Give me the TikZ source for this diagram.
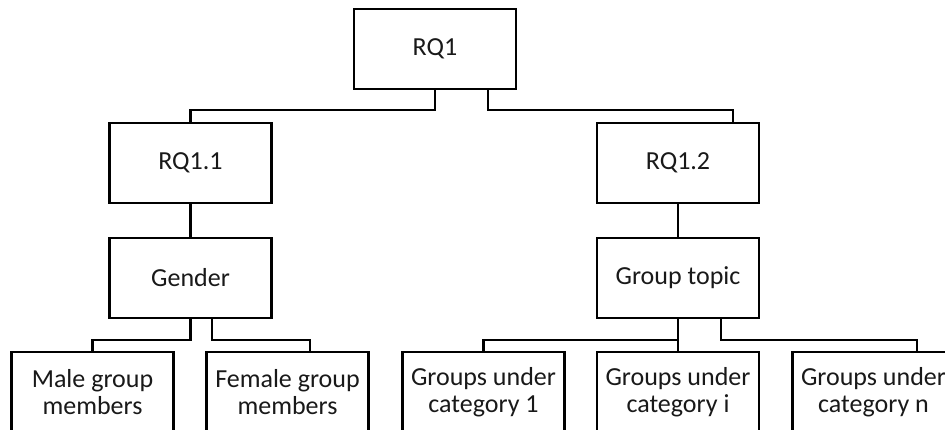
\documentclass[tikz,border=0pt]{standalone}
\usepackage{fontspec}
\setmainfont{Carlito}
\begin{document}
\begin{tikzpicture}[x=1pt,y=-1pt,
  box/.style={draw=black, line width=2.4pt, fill=white, minimum width=162pt,
    minimum height=80pt, inner sep=0pt, align=center, text=black!90,
    font=\fontsize{26}{27}\selectfont},
  link/.style={draw=black, line width=2.2pt}]
\useasboundingbox (0,0) rectangle (945,429);
\clip (0,0) rectangle (945,429);

% levels
\node[box] (rq1)    at (435,49)    {RQ1};
\node[box] (rq11)   at (190.5,163) {RQ1.1};
\node[box] (rq12)   at (678,163)   {RQ1.2};
\node[box] (gender) at (190.5,278) {Gender};
\node[box] (topic)  at (678,278)   {Group topic};
\node[box] (male)   at (92.5,392)  {Male group\\members};
\node[box] (female) at (287.5,392) {Female group\\members};
\node[box] (g1)     at (483.5,392) {Groups under\\category 1};
\node[box] (gi)     at (678,392)   {Groups under\\category i};
\node[box] (gn)     at (873.5,392) {Groups under\\category n};

% bus heights
\coordinate (top bus) at (0,110);
\coordinate (low bus) at (0,340);

% RQ1 to its two sub-questions
\draw[link] (rq1.south) -- (rq1.south |- top bus) -- (rq11.north |- top bus) -- (rq11.north);
\draw[link] ([xshift=53pt]rq1.south) -- ([xshift=53pt]rq1.south |- top bus)
  -- ([xshift=55pt]rq12.north |- top bus) -- ([xshift=55pt]rq12.north);

% sub-questions to their factors
\draw[link] (rq11.south) -- (gender.north);
\draw[link] (rq12.south) -- (topic.north);

% gender split
\draw[link] (gender.south) -- (gender.south |- low bus) -- (male.north |- low bus) -- (male.north);
\draw[link] ([xshift=21.5pt]gender.south) -- ([xshift=21.5pt]gender.south |- low bus)
  -- ([xshift=22.5pt]female.north |- low bus) -- ([xshift=22.5pt]female.north);

% topic split
\draw[link] (topic.south) -- (topic.south |- low bus) -- (g1.north |- low bus) -- (g1.north);
\draw[link] (topic.south) -- (gi.north);
\draw[link] ([xshift=43pt]topic.south) -- ([xshift=43pt]topic.south |- low bus)
  -- ([xshift=43.5pt]gn.north |- low bus) -- ([xshift=43.5pt]gn.north);
\end{tikzpicture}
\end{document}
